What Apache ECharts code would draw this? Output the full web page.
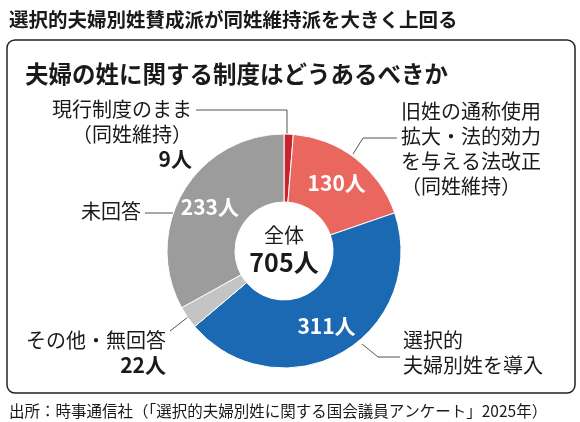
<!DOCTYPE html>
<html>
<head>
<meta charset="utf-8">
<script src="https://cdn.jsdelivr.net/npm/echarts@6/dist/echarts.min.js"></script>
<style>
  html, body { margin: 0; padding: 0; background: #fff; }
  #chart { width: 580px; height: 422px; }
</style>
</head>
<body>
<div id="chart"></div>
<script>
// 回答区分（12時から時計回り）
const categories = [
  '現行制度のまま\n（同姓維持）',
  '旧姓の通称使用\n拡大・法的効力\nを与える法改正\n（同姓維持）',
  '選択的\n夫婦別姓を導入',
  'その他・無回答',
  '未回答'
]
const values = [9, 130, 311, 22, 233]
const sliceColors = ['#c8232f', '#ea675f', '#1b69b3', '#c4c4c4', '#9c9c9c']
// 外側ラベルに人数も出すか
const showCountOutside = [true, false, false, true, false]

const total = values.reduce((a, b) => a + b, 0)

// 外側ラベルの配置（x, y, align, 引き出し線）
const outerLayout = [
  { x: 192, y: 97, align: 'right', line: [[287, 134], [287, 110], [196, 110]] },
  { x: 401, y: 99, align: 'left', line: [[353, 154], [363, 138], [397, 138]] },
  { x: 403, y: 328, align: 'left', line: [[362, 344], [378, 357], [400, 357]] },
  { x: 166, y: 328, align: 'right', line: [[188, 317], [170, 331]] },
  { x: 141, y: 199, align: 'right', line: [[175, 213], [145, 213]] }
]

const chart = echarts.init(document.getElementById('chart'))

const center = [284, 251]
const radius = [49, 117]

const option = {
  backgroundColor: '#fff',
  animation: false,
  textStyle: { fontFamily: '"Noto Sans CJK JP", sans-serif' },
  title: [
    {
      text: '選択的夫婦別姓賛成派が同姓維持派を大きく上回る',
      left: 4,
      top: 5,
      textStyle: { fontSize: 19.5, fontWeight: 'bold', color: '#1a1a1a' }
    },
    {
      text: '夫婦の姓に関する制度はどうあるべきか',
      left: 20,
      top: 57,
      textStyle: { fontSize: 23.5, fontWeight: 'bold', color: '#1a1a1a' }
    },
    {
      text: '出所：時事通信社（「選択的夫婦別姓に関する国会議員アンケート」2025年）',
      left: 4,
      top: 398,
      textStyle: { fontSize: 15.5, fontWeight: 'normal', color: '#1a1a1a' }
    }
  ],
  graphic: [
    {
      type: 'rect',
      shape: { x: 7, y: 40, width: 568, height: 353, r: 8 },
      style: { fill: 'none', stroke: '#222', lineWidth: 1.5 },
      z: -1
    },
    {
      type: 'text',
      x: center[0],
      y: 235,
      style: {
        text: '全体',
        fontSize: 20,
        fontFamily: '"Noto Sans CJK JP", sans-serif',
        fill: '#1a1a1a',
        align: 'center',
        verticalAlign: 'middle'
      },
      z: 10
    },
    {
      type: 'text',
      x: center[0],
      y: 262,
      style: {
        text: total + '人',
        fontSize: 25,
        fontWeight: 'bold',
        fontFamily: '"Noto Sans CJK JP", sans-serif',
        fill: '#1a1a1a',
        align: 'center',
        verticalAlign: 'middle'
      },
      z: 10
    }
  ],
  series: [
    {
      // 本体と内側の人数ラベル
      type: 'pie',
      center,
      radius,
      startAngle: 90,
      clockwise: true,
      silent: true,
      itemStyle: { borderColor: '#fff', borderWidth: 1 },
      label: {
        position: 'inside',
        color: '#fff',
        fontSize: 21,
        fontWeight: 'bold',
        formatter: p => (showCountOutside[p.dataIndex] ? '' : p.value + '人')
      },
      labelLine: { show: false },
      data: values.map((v, i) => ({
        value: v,
        name: categories[i],
        itemStyle: { color: sliceColors[i] }
      }))
    },
    {
      // 外側の説明ラベルと引き出し線
      type: 'pie',
      center,
      radius,
      startAngle: 90,
      clockwise: true,
      silent: true,
      itemStyle: { color: 'rgba(0,0,0,0)' },
      label: {
        position: 'outside',
        overflow: 'none',
        alignTo: 'none',
        edgeDistance: 0,
        color: '#1a1a1a',
        formatter: p => {
          const side = outerLayout[p.dataIndex].align === 'left' ? 'L' : 'R'
          let s = p.name.split('\n').map(t => '{t' + side + '|' + t + '}').join('\n')
          if (showCountOutside[p.dataIndex]) s += '\n{n' + side + '|' + p.value + '人}'
          return s
        },
        rich: {
          tL: { fontSize: 20, lineHeight: 25, color: '#1a1a1a', align: 'left' },
          tR: { fontSize: 20, lineHeight: 25, color: '#1a1a1a', align: 'right' },
          nL: { fontSize: 21, fontWeight: 'bold', lineHeight: 25, color: '#1a1a1a', align: 'left' },
          nR: { fontSize: 21, fontWeight: 'bold', lineHeight: 25, color: '#1a1a1a', align: 'right' }
        }
      },
      labelLine: { show: true, lineStyle: { color: '#555', width: 1 } },
      labelLayout: params => {
        const l = outerLayout[params.dataIndex]
        return {
          x: l.x,
          y: l.y,
          align: l.align,
          verticalAlign: 'top',
          labelLinePoints: l.line
        }
      },
      data: values.map((v, i) => ({ value: v, name: categories[i] }))
    }
  ]
}

chart.setOption(option)
</script>
</body>
</html>
